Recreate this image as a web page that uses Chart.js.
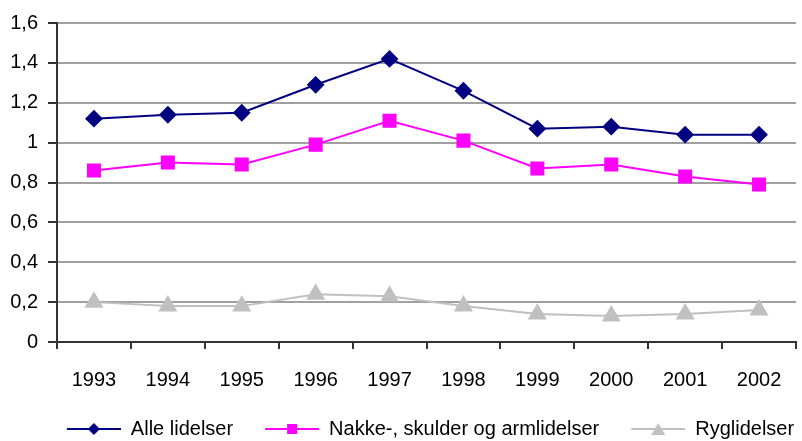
<!DOCTYPE html>
<html>
<head>
<meta charset="utf-8">
<script src="https://cdn.jsdelivr.net/npm/chart.js@4.4.1/dist/chart.umd.min.js"></script>
<style>
  html, body { margin: 0; padding: 0; background: #fff; overflow: hidden; }
</style>
</head>
<body>
<canvas id="chart" width="807" height="441"></canvas>
<script>
const years = ['1993', '1994', '1995', '1996', '1997', '1998', '1999', '2000', '2001', '2002'];
const alleLidelser = [1.12, 1.14, 1.15, 1.29, 1.42, 1.26, 1.07, 1.08, 1.04, 1.04];
const nakkeSkulderArm = [0.86, 0.90, 0.89, 0.99, 1.11, 1.01, 0.87, 0.89, 0.83, 0.79];
const ryglidelser = [0.20, 0.18, 0.18, 0.24, 0.23, 0.18, 0.14, 0.13, 0.14, 0.16];
const yTickLabels = ['0', '0,2', '0,4', '0,6', '0,8', '1', '1,2', '1,4', '1,6'];

const FONT = "'Liberation Sans', Arial, sans-serif";
const FONT_SIZE = 20;
const LEGEND_DX = 16;
const LEGEND_DY = 8;

// legend swatch: line with the marker in the middle, drawn on the right part of the box
function swatch(color, style) {
  const c = document.createElement('canvas');
  c.width = 76; c.height = 16;
  const ctx = c.getContext('2d');
  ctx.strokeStyle = color;
  ctx.fillStyle = color;
  ctx.lineWidth = 2;
  ctx.beginPath();
  ctx.moveTo(22, 8); ctx.lineTo(76, 8);
  ctx.stroke();
  const cx = 49, cy = 8;
  ctx.beginPath();
  if (style === 'diamond') {
    ctx.moveTo(cx - 6, cy); ctx.lineTo(cx, cy - 6); ctx.lineTo(cx + 6, cy); ctx.lineTo(cx, cy + 6);
  } else if (style === 'square') {
    ctx.rect(cx - 5, cy - 5, 10, 10);
  } else {
    ctx.moveTo(cx - 7, cy + 6); ctx.lineTo(cx, cy - 6); ctx.lineTo(cx + 7, cy + 6);
  }
  ctx.closePath();
  ctx.fill();
  return c;
}

const shiftLegend = {
  id: 'shiftLegend',
  afterLayout(chart) {
    const lg = chart.legend;
    lg.left += LEGEND_DX; lg.right += LEGEND_DX;
    lg.top += LEGEND_DY; lg.bottom += LEGEND_DY;
  }
};

new Chart(document.getElementById('chart'), {
  type: 'line',
  data: {
    labels: years,
    datasets: [
      {
        label: 'Alle lidelser',
        data: alleLidelser,
        borderColor: '#000080',
        backgroundColor: '#000080',
        borderWidth: 2,
        pointStyle: 'rectRot',
        pointRadius: 7.5,
        legendStyle: swatch('#000080', 'diamond'),
      },
      {
        label: 'Nakke-, skulder og armlidelser',
        data: nakkeSkulderArm,
        borderColor: '#ff00ff',
        backgroundColor: '#ff00ff',
        borderWidth: 2,
        pointStyle: 'rect',
        pointRadius: 8.5,
        legendStyle: swatch('#ff00ff', 'square'),
      },
      {
        label: 'Ryglidelser',
        data: ryglidelser,
        borderColor: '#c0c0c0',
        backgroundColor: '#c0c0c0',
        borderWidth: 2,
        pointStyle: 'triangle',
        pointRadius: 9,
        legendStyle: swatch('#c0c0c0', 'triangle'),
      },
    ],
  },
  options: {
    responsive: false,
    animation: false,
    layout: { padding: { top: 23, right: 0, left: 0, bottom: 0 } },
    elements: { line: { tension: 0 }, point: { borderWidth: 0 } },
    scales: {
      x: {
        offset: true,
        grid: { offset: true, drawOnChartArea: false, color: '#333', tickLength: 7, lineWidth: 2 },
        border: { color: '#333', width: 2 },
        ticks: { color: '#000', font: { family: FONT, size: FONT_SIZE }, padding: 19, maxRotation: 0 },
        afterFit: s => { s.height = 59; },
      },
      y: {
        min: 0,
        max: 1.6,
        grid: { color: '#a0a0a0', lineWidth: 2, tickLength: 9, tickColor: '#333' },
        border: { color: '#333', width: 2 },
        ticks: {
          stepSize: 0.2,
          color: '#000',
          font: { family: FONT, size: FONT_SIZE },
          padding: 10,
          callback: (v, i) => yTickLabels[i],
        },
        afterFit: s => { s.width = 57; },
      },
    },
    plugins: {
      tooltip: { enabled: false },
      legend: {
        position: 'bottom',
        labels: {
          usePointStyle: true,
          pointStyleWidth: 76,
          padding: 10,
          color: '#000',
          font: { family: FONT, size: FONT_SIZE },
          generateLabels: chart => chart.data.datasets.map((ds, i) => ({
            text: ds.label,
            pointStyle: ds.legendStyle,
            fontColor: '#000',
            datasetIndex: i,
            hidden: false,
            lineWidth: 0,
          })),
        },
      },
    },
  },
  plugins: [shiftLegend],
});
</script>
</body>
</html>
